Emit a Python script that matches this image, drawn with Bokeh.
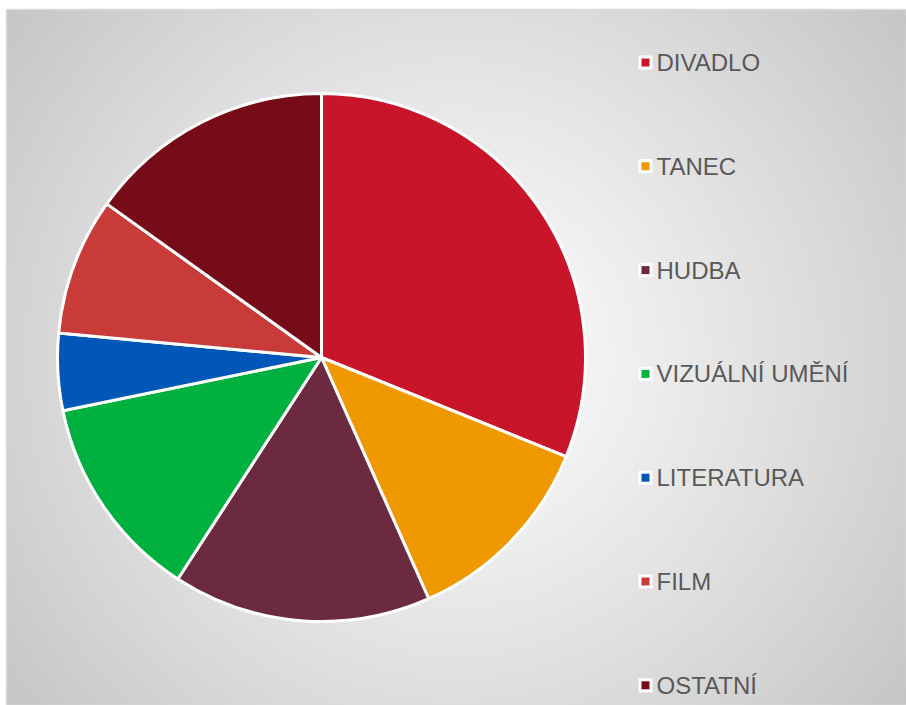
import numpy as np
from bokeh.plotting import figure
from bokeh.models import ColumnDataSource
from bokeh.core.properties import value
from bokeh.embed import file_html
from bokeh.resources import INLINE

categories = ["DIVADLO", "TANEC", "HUDBA", "VIZUÁLNÍ UMĚNÍ", "LITERATURA", "FILM", "OSTATNÍ"]
shares = [31.1, 12.2, 15.8, 12.6, 4.7, 8.4, 15.1]
colors = ["#C8152A", "#F09800", "#6B2A40", "#00B140", "#0057B8", "#C83B38", "#760C18"]

W, H = 906, 705
p = figure(width=W, height=H, x_range=(0, W), y_range=(0, H),
           output_backend="svg", toolbar_location=None, min_border=0)
p.axis.visible = False
p.grid.visible = False
p.outline_line_color = None
p.background_fill_color = "white"
p.border_fill_color = "white"

# radial gradient background of the chart area
x0, y0, x1, y1 = 6, 0, 906, 696
gw, gh = 300, 232
xs = np.linspace(0, 1, gw)
ys = np.linspace(0, 1, gh)
X, Y = np.meshgrid(xs, ys)
cx, cy = 0.5, 0.5
d = np.sqrt(((X - cx) * 1.0) ** 2 + ((Y - cy) * (gh / gw)) ** 2)
d = d / d.max()
g = (255 - 57 * np.clip(d, 0, 1) ** 1.1).astype(np.uint32)
img = (255 << 24) | (g << 16) | (g << 8) | g
p.image_rgba(image=[img.astype(np.uint32)], x=x0, y=y0, dw=x1 - x0, dh=y1 - y0)
p.quad(left=x0, right=x1, bottom=y0, top=y1, fill_color=None,
       line_color="#D9D9D9", line_width=1.5)

# pie
cxp, cyp, r = 321, H - 357, 264
fr = np.array(shares) / sum(shares)
ends = np.cumsum(fr) * 2 * np.pi
starts = ends - fr * 2 * np.pi
src = ColumnDataSource(dict(start=np.pi / 2 - starts, end=np.pi / 2 - ends, color=colors))
p.wedge(x=cxp, y=cyp, radius=r, start_angle="start", end_angle="end",
        direction="clock", fill_color="color", line_color="white", line_width=3,
        source=src)

# legend
n = len(categories)
ly = [H - (62 + i * 103.8) for i in range(n)]
lsrc = ColumnDataSource(dict(y=ly, label=categories, color=colors))
p.rect(x=645, y="y", width=14, height=14, fill_color="white", line_color=None, source=lsrc)
p.rect(x=645, y="y", width=8, height=8, fill_color="color", line_color=None, source=lsrc)
p.text(x=656, y="y", text="label", text_font=value("Liberation Sans"),
       text_font_size="24px", text_color="#595959", text_baseline="middle",
       source=lsrc)

open("out.html", "w").write(file_html(p, INLINE))
